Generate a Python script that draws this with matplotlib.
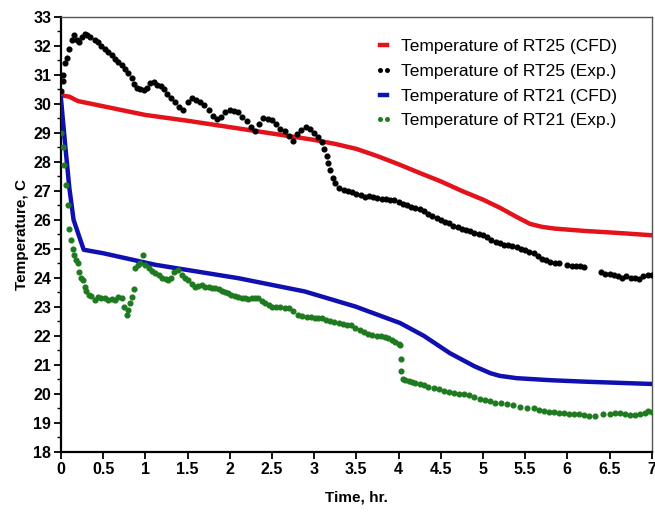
import matplotlib
matplotlib.use("Agg")
import matplotlib.pyplot as plt
from matplotlib.ticker import MultipleLocator

plt.rcParams['font.family'] = ['Liberation Sans', 'DejaVu Sans']

# RT25 CFD
t_rt25_cfd = [0, 0.1, 0.2, 0.4, 0.7, 1.0, 1.5, 2.0, 2.5, 3.0, 3.25, 3.5, 3.75, 4.0, 4.25, 4.5, 4.75, 5.0, 5.2, 5.4, 5.56, 5.7, 5.85, 6.2, 6.6, 7.0]
T_rt25_cfd = [30.3, 30.25, 30.1, 29.98, 29.8, 29.62, 29.42, 29.2, 28.98, 28.76, 28.62, 28.45, 28.2, 27.92, 27.62, 27.33, 27.0, 26.7, 26.42, 26.1, 25.86, 25.76, 25.7, 25.62, 25.55, 25.47]

# RT21 CFD
t_rt21_cfd = [0, 0.05, 0.1, 0.15, 0.27, 0.5, 1.12, 2.1, 2.89, 3.49, 4.02, 4.3, 4.61, 4.9, 5.09, 5.2, 5.4, 5.8, 6.2, 7.0]
T_rt21_cfd = [30.2, 28.6, 27.1, 26.0, 24.97, 24.85, 24.45, 23.99, 23.53, 23.01, 22.44, 22.0, 21.4, 20.95, 20.71, 20.62, 20.54, 20.47, 20.42, 20.34]

# RT25 experiment
t_rt25_exp = [0.00, 0.02, 0.03, 0.05, 0.07, 0.10, 0.13, 0.16, 0.19, 0.22, 0.25, 0.28, 0.31, 0.35, 0.40, 0.44,
              0.48, 0.52, 0.56, 0.60, 0.64, 0.68, 0.72, 0.76, 0.80, 0.84, 0.87, 0.90, 0.94, 0.98, 1.02, 1.06,
              1.10, 1.14, 1.18, 1.22, 1.26, 1.30, 1.35, 1.40, 1.45, 1.50, 1.55, 1.60, 1.65, 1.70, 1.75, 1.80,
              1.85, 1.90, 1.95, 2.00, 2.05, 2.10, 2.15, 2.20, 2.25, 2.30, 2.35, 2.40, 2.45, 2.50, 2.55, 2.60,
              2.65, 2.70, 2.75, 2.80, 2.85, 2.90, 2.95, 3.00, 3.05, 3.09, 3.12, 3.15, 3.17, 3.19, 3.22, 3.25,
              3.30, 3.35, 3.40, 3.45, 3.50, 3.55, 3.60, 3.65, 3.70, 3.75, 3.80, 3.85, 3.90, 3.95, 4.00, 4.05,
              4.10, 4.15, 4.20, 4.25, 4.30, 4.35, 4.40, 4.45, 4.50, 4.55, 4.60, 4.65, 4.70, 4.75, 4.80, 4.85,
              4.90, 4.95, 5.00, 5.05, 5.10, 5.15, 5.20, 5.25, 5.30, 5.35, 5.40, 5.45, 5.50, 5.55, 5.60, 5.65,
              5.70, 5.75, 5.80, 5.85, 5.90, 6.00, 6.05, 6.10, 6.15, 6.20, 6.40, 6.45, 6.50, 6.55, 6.60, 6.65,
              6.70, 6.75, 6.80, 6.85, 6.90, 6.95, 7.00]
T_rt25_exp = [30.45, 30.8, 31.0, 31.4, 31.6, 31.9, 32.2, 32.38, 32.2, 32.12, 32.3, 32.42, 32.38, 32.3, 32.22, 32.15,
              32.0, 31.9, 31.8, 31.7, 31.55, 31.45, 31.34, 31.2, 31.05, 30.9, 30.7, 30.55, 30.5, 30.48, 30.55, 30.72,
              30.75, 30.65, 30.62, 30.5, 30.35, 30.2, 30.05, 29.9, 29.8, 30.05, 30.2, 30.15, 30.05, 29.95, 29.8, 29.6,
              29.47, 29.55, 29.72, 29.8, 29.75, 29.72, 29.55, 29.4, 29.2, 29.05, 29.3, 29.5, 29.48, 29.45, 29.3, 29.15,
              29.05, 28.9, 28.72, 28.95, 29.1, 29.2, 29.12, 29.0, 28.85, 28.7, 28.45, 28.2, 27.95, 27.72, 27.45, 27.27,
              27.1, 27.03, 26.98, 26.95, 26.88, 26.85, 26.8, 26.82, 26.78, 26.75, 26.73, 26.72, 26.7, 26.68, 26.62, 26.55,
              26.5, 26.45, 26.4, 26.36, 26.3, 26.2, 26.12, 26.05, 26.0, 25.92, 25.89, 25.8, 25.75, 25.7, 25.65, 25.6,
              25.55, 25.5, 25.48, 25.4, 25.3, 25.25, 25.2, 25.15, 25.12, 25.1, 25.08, 25.0, 24.95, 24.9, 24.85, 24.75,
              24.65, 24.6, 24.56, 24.52, 24.5, 24.45, 24.42, 24.4, 24.4, 24.38, 24.2, 24.15, 24.12, 24.1, 24.05, 24.0,
              24.05, 23.98, 24.0, 23.95, 24.05, 24.1, 24.1]

# RT21 experiment
t_rt21_exp = [0.00, 0.02, 0.04, 0.06, 0.08, 0.10, 0.12, 0.14, 0.16, 0.18, 0.20, 0.22, 0.24, 0.26, 0.28, 0.30,
              0.33, 0.36, 0.40, 0.44, 0.48, 0.52, 0.56, 0.60, 0.64, 0.68, 0.72, 0.75, 0.78, 0.80, 0.82, 0.84,
              0.86, 0.88, 0.91, 0.94, 0.97, 1.00, 1.04, 1.08, 1.12, 1.16, 1.20, 1.24, 1.27, 1.30, 1.34, 1.39,
              1.43, 1.47, 1.51, 1.55, 1.59, 1.63, 1.67, 1.71, 1.75, 1.79, 1.83, 1.87, 1.91, 1.95, 1.98, 2.02,
              2.06, 2.10, 2.14, 2.18, 2.22, 2.26, 2.30, 2.34, 2.38, 2.42, 2.46, 2.50, 2.55, 2.60, 2.65, 2.70,
              2.75, 2.81, 2.86, 2.91, 2.96, 3.01, 3.05, 3.09, 3.14, 3.19, 3.24, 3.29, 3.34, 3.39, 3.44, 3.49,
              3.54, 3.59, 3.64, 3.69, 3.74, 3.79, 3.84, 3.88, 3.92, 3.96, 4.00, 4.02, 4.03, 4.03, 4.05, 4.08,
              4.12, 4.16, 4.20, 4.25, 4.30, 4.35, 4.42, 4.48, 4.54, 4.60, 4.66, 4.72, 4.78, 4.84, 4.90, 4.96,
              5.02, 5.08, 5.14, 5.21, 5.28, 5.36, 5.44, 5.52, 5.60, 5.66, 5.72, 5.78, 5.84, 5.90, 5.96, 6.02,
              6.08, 6.14, 6.20, 6.26, 6.33, 6.42, 6.50, 6.56, 6.62, 6.68, 6.74, 6.80, 6.86, 6.92, 6.96, 7.00]
T_rt21_exp = [29.0, 28.5, 27.9, 27.2, 26.5, 25.7, 25.3, 25.0, 24.8, 24.6, 24.5, 24.2, 24.0, 23.93, 23.7, 23.55,
              23.4, 23.36, 23.24, 23.35, 23.3, 23.3, 23.25, 23.28, 23.24, 23.35, 23.3, 23.0, 22.72, 22.9, 23.13, 23.35,
              23.6, 24.33, 24.45, 24.5, 24.79, 24.45, 24.35, 24.25, 24.16, 24.1, 24.0, 23.95, 23.93, 24.0, 24.2, 24.28,
              24.1, 24.0, 23.93, 23.8, 23.7, 23.72, 23.75, 23.68, 23.7, 23.66, 23.64, 23.6, 23.55, 23.5, 23.47, 23.42,
              23.38, 23.35, 23.3, 23.32, 23.28, 23.3, 23.32, 23.3, 23.2, 23.12, 23.05, 23.01, 23.0, 22.98, 22.96, 22.95,
              22.85, 22.72, 22.7, 22.66, 22.65, 22.62, 22.62, 22.61, 22.55, 22.5, 22.47, 22.44, 22.4, 22.38, 22.36, 22.27,
              22.2, 22.12, 22.08, 22.03, 22.0, 21.98, 21.97, 21.92, 21.85, 21.78, 21.72, 21.69, 21.2, 20.8, 20.5, 20.48,
              20.45, 20.42, 20.38, 20.35, 20.3, 20.25, 20.2, 20.15, 20.1, 20.05, 20.02, 20.0, 19.98, 19.95, 19.88, 19.82,
              19.78, 19.74, 19.7, 19.68, 19.65, 19.6, 19.55, 19.52, 19.5, 19.45, 19.42, 19.38, 19.36, 19.35, 19.33, 19.3,
              19.32, 19.3, 19.28, 19.25, 19.25, 19.3, 19.3, 19.35, 19.33, 19.3, 19.28, 19.26, 19.3, 19.35, 19.4, 19.38]

labels = ["Temperature of RT25 (CFD)", "Temperature of RT25 (Exp.)",
          "Temperature of RT21 (CFD)", "Temperature of RT21 (Exp.)"]
x_ticks = [0, 0.5, 1, 1.5, 2, 2.5, 3, 3.5, 4, 4.5, 5, 5.5, 6, 6.5, 7]
x_ticklabels = ["0", "0.5", "1", "1.5", "2", "2.5", "3", "3.5", "4", "4.5", "5", "5.5", "6", "6.5", "7"]

fig = plt.figure(figsize=(6.55, 5.14), dpi=100)
ax = fig.add_axes([0.093, 0.121, 0.902, 0.846])

ax.plot(t_rt25_cfd, T_rt25_cfd, color='#e3121b', lw=3.2, label=labels[0], zorder=3)
ax.plot(t_rt25_exp, T_rt25_exp, ls='none', marker='o', ms=3.4, color='black', label=labels[1], zorder=4)
ax.plot(t_rt21_cfd, T_rt21_cfd, color='#1010b0', lw=3.2, label=labels[2], zorder=3)
ax.plot(t_rt21_exp, T_rt21_exp, ls='none', marker='o', ms=3.4, color='#1e7a1e', label=labels[3], zorder=4)

ax.set_xlim(0, 7)
ax.set_ylim(18, 33)
ax.set_xticks(x_ticks)
ax.set_xticklabels(x_ticklabels)
ax.yaxis.set_major_locator(MultipleLocator(1))
ax.yaxis.set_minor_locator(MultipleLocator(0.5))

for s in ['left', 'bottom']:
    ax.spines[s].set_linewidth(1.6)
    ax.spines[s].set_color('black')
for s in ['top', 'right']:
    ax.spines[s].set_linewidth(1.0)
    ax.spines[s].set_color('#555555')

ax.tick_params(axis='both', which='major', direction='out', length=5, width=1.3,
               labelsize=11.5, top=False, right=False, pad=2)
ax.tick_params(axis='y', which='minor', direction='out', length=3, width=1.0, right=False)
for lab in ax.get_xticklabels() + ax.get_yticklabels():
    lab.set_fontweight('bold')

ax.set_xlabel("Time, hr.", fontsize=11, fontweight='bold', labelpad=10)
ax.set_ylabel("Temperature, C", fontsize=11, fontweight='bold', labelpad=3)

leg = ax.legend(loc='upper right', bbox_to_anchor=(0.968, 0.985), frameon=False, fontsize=12.5,
                handlelength=1.0, handletextpad=0.5, labelspacing=0.55, numpoints=2,
                markerscale=0.75)

fig.savefig("out.png", dpi=100)
